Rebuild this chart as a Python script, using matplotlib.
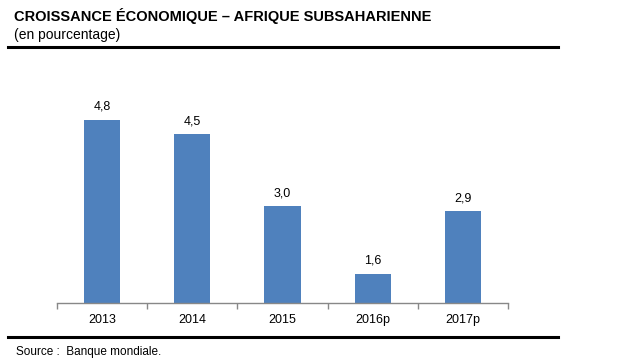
import matplotlib
matplotlib.use("Agg")
import matplotlib.pyplot as plt
from matplotlib.lines import Line2D

categories = ["2013", "2014", "2015", "2016p", "2017p"]
values = [4.8, 4.5, 3.0, 1.6, 2.9]
value_labels = ["4,8", "4,5", "3,0", "1,6", "2,9"]

title = "CROISSANCE ÉCONOMIQUE – AFRIQUE SUBSAHARIENNE"
subtitle = "(en pourcentage)"
source = "Source :  Banque mondiale."

W, H = 620, 362
fig = plt.figure(figsize=(W / 100, H / 100), dpi=100)
fig.patch.set_facecolor("white")

ax = fig.add_axes([57 / W, 1 - 302.5 / H, (508 - 57) / W, (302.5 - 62) / H])
x = list(range(len(categories)))
ax.bar(x, values, width=0.4, color="#4F81BD", zorder=2)
ax.set_xlim(-0.5, len(categories) - 0.5)
ax.set_ylim(1, 6)

for xi, v, lab in zip(x, values, value_labels):
    ax.annotate(lab, (xi, v), xytext=(0, 5), textcoords="offset points",
                ha="center", va="bottom", fontsize=9,
                family=["Liberation Sans", "DejaVu Sans"], color="#000000")

for s in ["top", "right", "left"]:
    ax.spines[s].set_visible(False)
ax.spines["bottom"].set_color("#888888")
ax.spines["bottom"].set_linewidth(1.0)
ax.set_yticks([])
ax.set_xticks([i - 0.5 for i in range(len(categories) + 1)], minor=False)
ax.set_xticklabels([])
ax.tick_params(axis="x", which="major", direction="out", length=4,
               color="#888888", width=1.0)
ax.set_xticks(x, minor=True)
ax.set_xticklabels(categories, minor=True, fontsize=9,
                   family=["Liberation Sans", "DejaVu Sans"])
ax.tick_params(axis="x", which="minor", length=0, pad=8)

fig.text(14 / W, 1 - 21 / H, title, fontsize=10.5, fontweight="bold",
         family=["Liberation Sans Narrow", "Liberation Sans", "DejaVu Sans"],
         ha="left", va="baseline")
fig.text(14 / W, 1 - 39 / H, subtitle, fontsize=10,
         family=["Liberation Sans Narrow", "Liberation Sans", "DejaVu Sans"],
         ha="left", va="baseline")
fig.text(16 / W, 1 - 355 / H, source, fontsize=8.5,
         family=["Liberation Sans Narrow", "Liberation Sans", "DejaVu Sans"],
         ha="left", va="baseline")

fig.add_artist(Line2D([8 / W, 558 / W], [1 - 46.7 / H] * 2, color="black",
                      linewidth=2.2, transform=fig.transFigure))
fig.add_artist(Line2D([8 / W, 558 / W], [1 - 336.7 / H] * 2, color="black",
                      linewidth=2.2, transform=fig.transFigure))

fig.savefig("out.png", dpi=100, facecolor="white")
